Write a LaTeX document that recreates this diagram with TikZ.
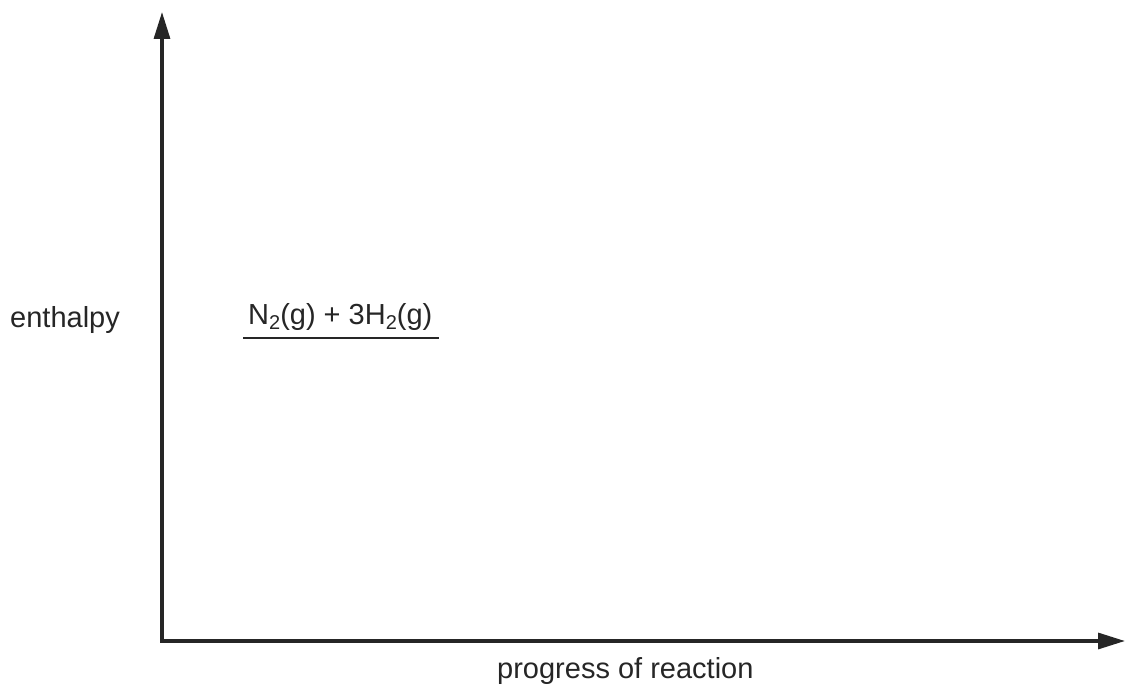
\documentclass[tikz,border=0pt]{standalone}
\usepackage{fontspec}
\setmainfont{Liberation Sans}
\usetikzlibrary{arrows.meta, positioning}

\newcommand{\chemsub}[1]{\raisebox{-5pt}{\fontsize{20}{20}\selectfont #1}}

\begin{document}
\begin{tikzpicture}[
            x=1pt, y=-1pt,
            axis/.style={line width=3.2pt, black!85, {Triangle[length=27pt, width=16pt]}-{Triangle[length=27pt, width=16pt]}},
            level/.style={line width=2.8pt, black!85},
            lbl/.style={inner sep=0pt, anchor=base west, text=black!85, font=\fontsize{29}{35}\selectfont}
        ]
            \useasboundingbox (0,0) rectangle (1125,685);

            % --- Axes ---
            \coordinate (origin) at (162,641);
            \coordinate (ytop) at (162,12);
            \coordinate (xend) at (1125,641);
            \draw[axis] (ytop) -- (origin) -- (xend);

            % --- Labels ---
            \node[lbl] (enthalpy) at (10,327) {enthalpy};
            \node[lbl] (progress) at (497,678) {progress of reaction};

            % --- Reactant level ---
            \coordinate (levelL) at (243,338);
            \coordinate (levelR) at (439,338);
            \draw[level] (levelL) -- (levelR);
            \node[lbl] (reactants) at (248,324) {N\chemsub{2}(g) + 3H\chemsub{2}(g)};

        \end{tikzpicture}
\end{document}
